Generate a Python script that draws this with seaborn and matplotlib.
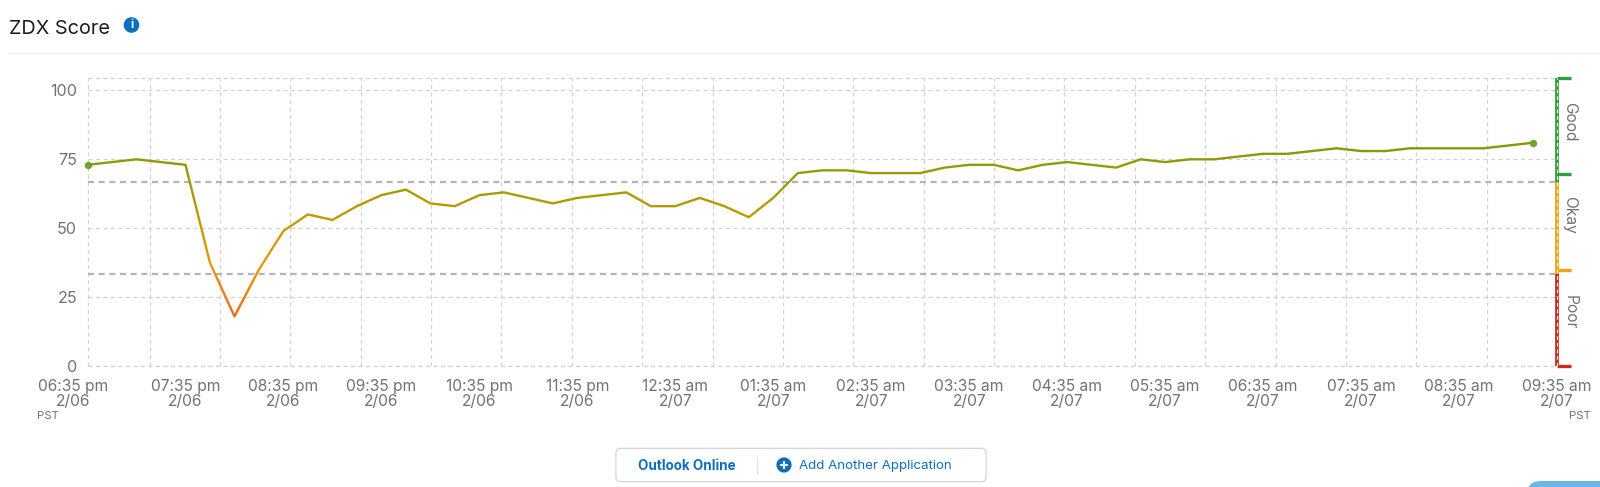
import numpy as np
import pandas as pd
import matplotlib.pyplot as plt
import seaborn as sns
from matplotlib.colors import LinearSegmentedColormap
from matplotlib.patches import Circle, FancyBboxPatch
from matplotlib.transforms import ScaledTranslation, blended_transform_factory

# --- data ---
score = [73, 74, 75, 74, 73, 37.5, 18, 35, 49, 55, 53, 58, 62, 64, 59, 58, 62, 63, 61, 59,
         61, 62, 63, 58, 58, 61, 58, 54, 61, 70, 71, 71, 70, 70, 70, 72, 73, 73, 71, 73,
         74, 73, 72, 75, 74, 75, 75, 76, 77, 77, 78, 79, 78, 78, 79, 79, 79, 79, 80, 81]
tick_labels = ['06:35 pm\n2/06', '07:35 pm\n2/06', '08:35 pm\n2/06', '09:35 pm\n2/06',
               '10:35 pm\n2/06', '11:35 pm\n2/06', '12:35 am\n2/07', '01:35 am\n2/07',
               '02:35 am\n2/07', '03:35 am\n2/07', '04:35 am\n2/07', '05:35 am\n2/07',
               '06:35 am\n2/07', '07:35 am\n2/07', '08:35 am\n2/07', '09:35 am\n2/07']
y_ticks = [0, 25, 50, 75, 100]
thresholds = [100 / 3, 200 / 3]
y_top = 104.4
# bracket on the right: label, colour, from, to, value of the small tick
bands = [('Good', '#2e9e3f', 66.7, y_top, [y_top, 69.5]),
         ('Okay', '#f0a30a', 33.3, 66.7, [35]),
         ('Poor', '#d0281f', 0, 33.3, [0])]
band_label_y = [122, 215, 312]

W, H = 1600, 487
LEFT, RIGHT, TOP, BOTTOM = 87.5, 1557, 78.3, 366
GRID = '#d2d2d2'
TEXT = '#727272'
BLUE = '#0b6fbd'
DASH = (0, (3.2, 2.8))

sns.set_theme(style='white')
plt.rcParams['font.family'] = ['Inter', 'DejaVu Sans']

df = pd.DataFrame({'minutes': np.arange(len(score)) * 15, 'score': score})

fig = plt.figure(figsize=(W / 100, H / 100), dpi=100, facecolor='white')

# page furniture, in pixel coordinates
bg = fig.add_axes([0, 0, 1, 1])
bg.set_xlim(0, W)
bg.set_ylim(H, 0)
bg.axis('off')
bg.text(9, 28.5, 'ZDX Score', fontsize=14.3, color='#1c1c1c', va='center', ha='left')
bg.add_patch(Circle((131.5, 25), 7.8, color=BLUE, lw=0))
bg.text(131.5, 25, 'i', color='white', fontsize=8.5, fontweight='bold', ha='center', va='center')
bg.plot([9, W], [52.5, 52.5], color='#eeeeee', lw=0.9)

bg.add_patch(FancyBboxPatch((616, 448.5), 370, 33, boxstyle='round,pad=0,rounding_size=5',
                            fc='#f0f0f0', ec='#f0f0f0', lw=1.8))
bg.add_patch(FancyBboxPatch((616, 448.5), 370, 33, boxstyle='round,pad=0,rounding_size=5',
                            fc='white', ec='#d4d4d4', lw=0.7))
bg.text(637.5, 465.5, 'Outlook Online', color=BLUE, fontsize=9.7, fontweight='bold', va='center')
bg.plot([757, 757], [457, 474], color='#e2e2e2', lw=0.9)
bg.add_patch(Circle((784, 465), 7.6, color=BLUE, lw=0))
bg.plot([780, 788], [465, 465], color='white', lw=1.5, solid_capstyle='butt')
bg.plot([784, 784], [461, 469], color='white', lw=1.5, solid_capstyle='butt')
bg.text(799, 465.5, 'Add Another Application', color=BLUE, fontsize=9.55, va='center')
bg.add_patch(FancyBboxPatch((1527, 481), 120, 30, boxstyle='round,pad=0,rounding_size=14',
                            fc='#67b8e8', ec='none', clip_on=True))
bg.text(37, 416, 'PST', color=TEXT, fontsize=8.2, va='center')
bg.text(1569, 416, 'PST', color=TEXT, fontsize=8.2, va='center')

# chart
ax = fig.add_axes([LEFT / W, 1 - BOTTOM / H, (RIGHT - LEFT) / W, (BOTTOM - TOP) / H])
ax.patch.set_alpha(0)
ax.set_xlim(0, 900)
ax.set_ylim(0, y_top)

grid_x = np.linspace(38, 900, 21)
ax.set_xticks(grid_x, minor=True)
ax.set_xticks(df['minutes'].iloc[::4].tolist() + [900])
ax.set_xticklabels(tick_labels, fontsize=11.2, color=TEXT, linespacing=0.95)
ax.set_yticks(y_ticks)
ax.set_yticklabels(y_ticks, fontsize=11.6, color=TEXT)
ax.tick_params(axis='x', which='both', length=0, pad=9.5)
ax.tick_params(axis='y', length=0, pad=7.5)
ax.grid(False)
dash = dict(color=GRID, lw=0.9, ls=DASH, zorder=1)
ax.grid(True, axis='x', which='minor', **dash)
ax.grid(True, axis='y', which='major', **dash)
ax.set_axisbelow(True)
for s in ax.spines.values():
    s.set_visible(False)
ax.axvline(0, clip_on=False, **dash)
ax.axhline(y_top, clip_on=False, **dash)
ax.axhline(0, clip_on=False, **dash)

for t in thresholds:
    ax.axhline(t, color='#b3b3b3', lw=1.6, ls=(0, (2.7, 2.1)), zorder=2)

# first label sits left of the axis start in the original
first = ax.get_xticklabels()[0]
first.set_transform(first.get_transform() + ScaledTranslation(-14.5 / 100, 0, fig.dpi_scale_trans))

# score line, coloured by height
score_cmap = LinearSegmentedColormap.from_list('score', [
    (0.00, '#ea6a1c'), (0.30, '#e89a0e'), (0.52, '#c99b04'),
    (0.72, '#a89b02'), (0.90, '#8f9b05'), (1.00, '#7f9a08')])
sns.lineplot(data=df, x='minutes', y='score', color='#a89b02', lw=1.7, ax=ax, zorder=4, errorbar=None)
line = ax.lines[-1]


def color_by_row(img, dpi):
    # img is cropped to the drawn line, so row 0 is the top of the line
    out = img.copy()
    out[:, :, :3] = score_cmap(1 - np.linspace(0, 1, img.shape[0]))[:, None, :3]
    return out, 0, 0


line.set_agg_filter(color_by_row)

sns.scatterplot(data=df.iloc[[0, -1]], x='minutes', y='score', color='#6fa32c', s=28,
                linewidth=0, ax=ax, zorder=5, clip_on=False)
ax.set_xlabel('')
ax.set_ylabel('')

# bracket on the right edge
trans = blended_transform_factory(ax.transAxes, ax.transData)
for (name, color, lo, hi, caps), label_y in zip(bands, band_label_y):
    ax.plot([1, 1], [lo, hi], color=color, lw=2.7, transform=trans, clip_on=False,
            solid_capstyle='butt', zorder=3)
    for c in caps:
        ax.plot([1, 1.0098], [c, c], color=color, lw=2.4, transform=trans, clip_on=False,
                solid_capstyle='butt', zorder=3)
    bg.text(1570, label_y, name, rotation=270, color=TEXT, fontsize=11.2, ha='center', va='center')
ax.axvline(900, clip_on=False, color='white', lw=0.8, ls=DASH, zorder=3.5)

fig.savefig('out.png', dpi=100)
